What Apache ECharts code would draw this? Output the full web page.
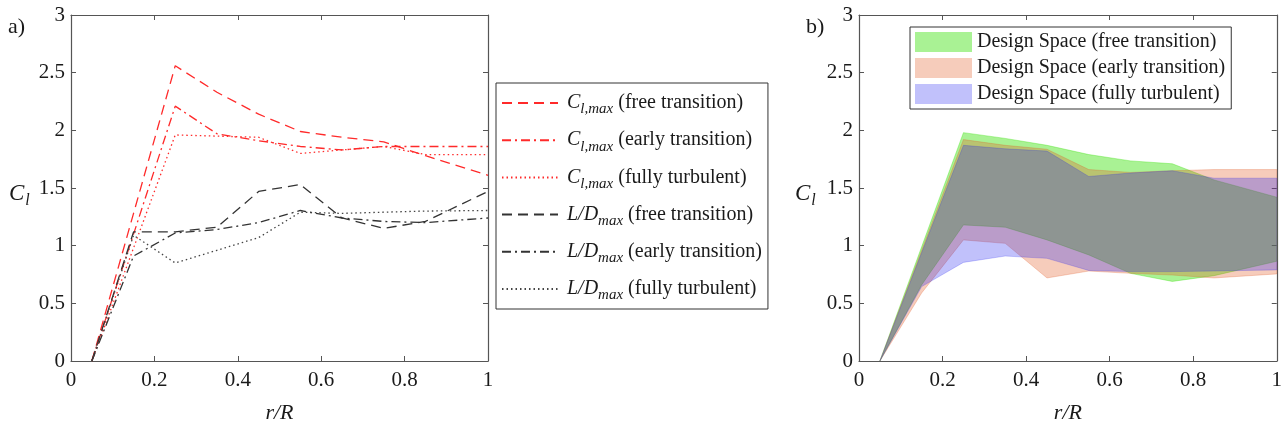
<!DOCTYPE html>
<html>
<head>
<meta charset="utf-8">
<script src="https://cdn.jsdelivr.net/npm/echarts@6/dist/echarts.min.js"></script>
<style>
html,body{margin:0;padding:0;background:#fff;}
#chart{width:1285px;height:429px;}
</style>
</head>
<body>
<div id="chart"></div>
<script>
// ---- data ----
const xs = [0.05, 0.15, 0.25, 0.35, 0.45, 0.55, 0.65, 0.75, 0.85, 1.0];
const xTicks = [0, 0.2, 0.4, 0.6, 0.8, 1];
const yTicks = [0, 0.5, 1, 1.5, 2, 2.5, 3];

const clFree  = [0, 1.28, 2.56, 2.33, 2.14, 1.99, 1.94, 1.90, 1.78, 1.61];
const clEarly = [0, 1.10, 2.21, 1.97, 1.91, 1.86, 1.83, 1.86, 1.86, 1.86];
const clTurb  = [0, 0.98, 1.96, 1.95, 1.94, 1.80, 1.83, 1.86, 1.79, 1.79];
const ldFree  = [0, 1.12, 1.12, 1.16, 1.47, 1.53, 1.24, 1.15, 1.21, 1.47];
const ldEarly = [0, 0.91, 1.11, 1.14, 1.20, 1.305, 1.24, 1.21, 1.20, 1.24];
const ldTurb  = [0, 1.09, 0.85, 0.96, 1.07, 1.29, 1.28, 1.29, 1.30, 1.305];

const dsFreeTop  = [0, 0.99, 1.98, 1.93, 1.87, 1.79, 1.735, 1.71, 1.57, 1.42];
const dsFreeBot  = [0, 0.66, 1.18, 1.16, 1.05, 0.92, 0.76, 0.69, 0.74, 0.865];
const dsEarlyTop = [0, 0.96, 1.92, 1.87, 1.836, 1.66, 1.635, 1.65, 1.66, 1.66];
const dsEarlyBot = [0, 0.59, 1.05, 1.02, 0.72, 0.78, 0.76, 0.745, 0.72, 0.755];
const dsTurbTop  = [0, 0.94, 1.87, 1.84, 1.82, 1.60, 1.63, 1.65, 1.585, 1.585];
const dsTurbBot  = [0, 0.645, 0.855, 0.91, 0.89, 0.785, 0.775, 0.775, 0.78, 0.79];

const lineNames = [
  'Cl,max (free transition)', 'Cl,max (early transition)', 'Cl,max (fully turbulent)',
  'L/Dmax (free transition)', 'L/Dmax (early transition)', 'L/Dmax (fully turbulent)'
];
const bandNames = [
  'Design Space (free transition)', 'Design Space (early transition)', 'Design Space (fully turbulent)'
];

// ---- styles ----
const FONT = '"Liberation Serif", "Times New Roman", serif';
const RED = '#ff2a2a';
const BLK = '#333333';
const AX = '#555555';
const DASH = [10, 6];
const DASHDOT = [9, 4, 2, 4];
const DOT = [1.5, 3];

const chart = echarts.init(document.getElementById('chart'), null, {renderer: 'canvas'});

function xAxisDef(grid, pos, labels) {
  return {
    type: 'value', gridIndex: grid, position: pos, min: 0, max: 1, interval: 0.2,
    axisLine: {show: true, onZero: false, lineStyle: {color: AX, width: 1.2}},
    axisTick: {show: true, inside: true, length: 5, lineStyle: {color: AX}},
    splitLine: {show: false},
    axisLabel: {show: labels, color: '#1a1a1a', fontFamily: FONT, fontSize: 21, margin: 9},
    name: labels ? 'r/R' : '', nameLocation: 'middle', nameGap: 41,
    nameTextStyle: {fontFamily: FONT, fontSize: 22, fontStyle: 'italic', color: '#1a1a1a'}
  };
}
function yAxisDef(grid, pos, labels) {
  return {
    type: 'value', gridIndex: grid, position: pos, min: 0, max: 3, interval: 0.5,
    axisLine: {show: true, onZero: false, lineStyle: {color: AX, width: 1.2}},
    axisTick: {show: true, inside: true, length: 5, lineStyle: {color: AX}},
    splitLine: {show: false},
    axisLabel: {show: labels, color: '#1a1a1a', fontFamily: FONT, fontSize: 21, margin: 6}
  };
}

function lineSeries(name, arr, color, type) {
  return {
    name: name, type: 'line', xAxisIndex: 0, yAxisIndex: 0,
    data: xs.map((x, i) => [x, arr[i]]),
    symbol: 'none', silent: true, animation: false,
    lineStyle: {color: color, width: 1.3, type: type},
    itemStyle: {color: color}
  };
}

function bandSeries(name, top, bot, fill, stroke) {
  return {
    name: name, type: 'custom', xAxisIndex: 2, yAxisIndex: 2,
    data: xs.map((x, i) => [x, top[i], bot[i]]),
    encode: {x: 0, y: [1, 2]},
    itemStyle: {color: fill},
    animation: false, silent: true,
    renderItem: function (params, api) {
      if (params.dataIndex !== 0) return null;
      const pts = [];
      for (let i = 0; i < xs.length; i++) pts.push(api.coord([xs[i], top[i]]));
      for (let i = xs.length - 1; i >= 0; i--) pts.push(api.coord([xs[i], bot[i]]));
      return {type: 'polygon', shape: {points: pts},
        style: {fill: fill, stroke: stroke, lineWidth: 0.7}};
    }
  };
}

const richLegend = {
  i: {fontFamily: FONT, fontSize: 20, fontStyle: 'italic', color: '#1a1a1a', lineHeight: 26, padding: [0, 0, 0, 4]},
  s: {fontFamily: FONT, fontSize: 15, fontStyle: 'italic', color: '#1a1a1a', lineHeight: 15, padding: [13, 0, 0, 0]},
  n: {fontFamily: FONT, fontSize: 20, color: '#1a1a1a', lineHeight: 26}
};

const option = {
  backgroundColor: '#ffffff',
  animation: false,
  grid: [
    {left: 71, top: 15, width: 417, height: 350, show: false},
    {left: 859, top: 15, width: 418, height: 348, show: false}
  ],
  xAxis: [xAxisDef(0, 'bottom', true), xAxisDef(0, 'top', false),
          xAxisDef(1, 'bottom', true), xAxisDef(1, 'top', false)],
  yAxis: [yAxisDef(0, 'left', true), yAxisDef(0, 'right', false),
          yAxisDef(1, 'left', true), yAxisDef(1, 'right', false)],
  legend: [
    {
      data: lineNames, orient: 'vertical', left: 496, top: 83,
      itemWidth: 56, itemHeight: 14, itemGap: 9.2,
      padding: [6, 6, 6, 5],
      borderColor: '#333', borderWidth: 1, backgroundColor: '#fff',
      selectedMode: false,
      itemStyle: {opacity: 0, color: 'rgba(0,0,0,0)', borderWidth: 0},
      textStyle: {rich: richLegend},
      formatter: function (name) {
        const m = name.match(/^(Cl,max|L\/Dmax) (.*)$/);
        if (m[1] === 'Cl,max') return '{i|C}{s|l,max}{n| ' + m[2] + '}';
        return '{i|L/D}{s|max}{n| ' + m[2] + '}';
      }
    },
    {
      data: bandNames, orient: 'vertical', left: 910, top: 27,
      itemWidth: 57, itemHeight: 20, itemGap: 6, icon: 'rect',
      padding: [5, 6, 5, 5],
      borderColor: '#333', borderWidth: 1, backgroundColor: '#fff',
      selectedMode: false,
      textStyle: {fontFamily: FONT, fontSize: 20, color: '#1a1a1a'}
    }
  ],
  graphic: [
    {type: 'text', left: 8, top: 16, style: {text: 'a)', font: '22px ' + FONT, fill: '#1a1a1a'}},
    {type: 'text', left: 806, top: 16, style: {text: 'b)', font: '22px ' + FONT, fill: '#1a1a1a'}},
    {type: 'text', left: 9, top: 179, style: {text: '{c|C}{s|l}', rich: {
      c: {fontFamily: FONT, fontSize: 23, fontStyle: 'italic', fill: '#1a1a1a', lineHeight: 26},
      s: {fontFamily: FONT, fontSize: 16, fontStyle: 'italic', fill: '#1a1a1a', lineHeight: 16, padding: [14, 0, 0, 1]}
    }}},
    {type: 'text', left: 795, top: 179, style: {text: '{c|C}{s|l}', rich: {
      c: {fontFamily: FONT, fontSize: 23, fontStyle: 'italic', fill: '#1a1a1a', lineHeight: 26},
      s: {fontFamily: FONT, fontSize: 16, fontStyle: 'italic', fill: '#1a1a1a', lineHeight: 16, padding: [14, 0, 0, 1]}
    }}}
  ],
  series: [
    lineSeries(lineNames[0], clFree, RED, DASH),
    lineSeries(lineNames[1], clEarly, RED, DASHDOT),
    lineSeries(lineNames[2], clTurb, RED, DOT),
    lineSeries(lineNames[3], ldFree, BLK, DASH),
    lineSeries(lineNames[4], ldEarly, BLK, DASHDOT),
    lineSeries(lineNames[5], ldTurb, '#444', DOT),
    bandSeries(bandNames[0], dsFreeTop, dsFreeBot, 'rgba(50,225,0,0.42)', 'rgba(50,225,0,0.48)'),
    bandSeries(bandNames[1], dsEarlyTop, dsEarlyBot, 'rgba(225,85,30,0.3)', 'rgba(225,85,30,0.36)'),
    bandSeries(bandNames[2], dsTurbTop, dsTurbBot, 'rgba(25,25,240,0.27)', 'rgba(25,25,240,0.3)')
  ]
};
chart.setOption(option);
</script>
</body>
</html>
